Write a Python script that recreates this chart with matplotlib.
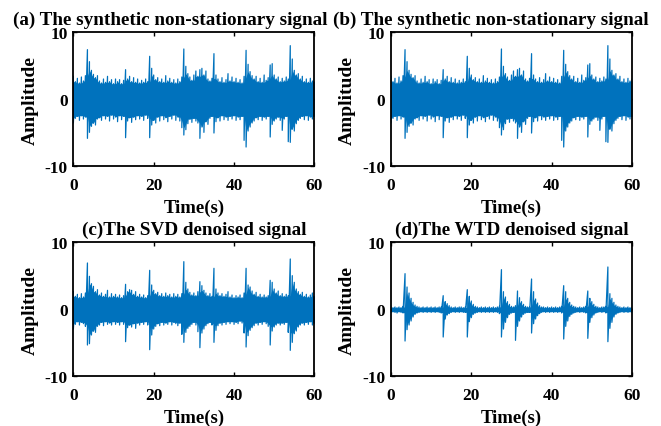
import numpy as np
import matplotlib
matplotlib.use('Agg')
import matplotlib.pyplot as plt

plt.rcParams['font.family'] = 'Liberation Serif'
plt.rcParams['font.weight'] = 'bold'
plt.rcParams['axes.unicode_minus'] = False

# sampling instants of the envelope (s)
time = np.linspace(0, 60, 121)

# synthetic non-stationary signal: upper / lower envelope per sample
raw_hi = [3.4, 2.6, 3.1, 2.4, 3.3, 2.7, 3.5, 7.4, 5.6, 4.3,
          3.7, 3.2, 3.5, 2.7, 2.4, 3.0, 2.5, 3.4, 2.6, 2.9,
          2.3, 3.0, 2.6, 2.9, 2.3, 2.8, 4.4, 3.0, 3.4, 2.6,
          3.2, 2.5, 3.0, 2.4, 2.8, 2.5, 3.0, 2.6, 6.4, 4.6,
          3.6, 2.9, 3.2, 2.6, 3.0, 2.5, 3.5, 2.7, 3.1, 2.5,
          2.9, 2.4, 3.0, 2.6, 3.3, 7.5, 4.9, 3.8, 3.3, 2.8,
          3.6, 4.2, 3.4, 4.4, 4.6, 3.6, 4.2, 3.0, 2.7, 3.1,
          6.8, 3.6, 3.0, 2.6, 3.2, 2.5, 2.9, 3.8, 2.7, 3.3,
          2.6, 3.1, 2.5, 2.9, 2.4, 3.4, 7.3, 5.2, 4.1, 3.5,
          3.0, 3.4, 2.6, 3.1, 2.5, 3.6, 2.8, 3.2, 5.1, 5.3,
          3.6, 3.0, 3.3, 2.6, 3.1, 2.7, 3.3, 3.0, 8.0, 6.0,
          4.3, 3.6, 3.8, 3.0, 3.4, 2.6, 3.0, 2.5, 3.1, 2.7,
          3.0]
raw_lo = [-3.6, -2.9, -2.6, -3.2, -2.5, -3.0, -2.7, -5.9, -5.0, -4.1,
          -3.6, -3.9, -3.0, -2.8, -3.2, -2.5, -3.0, -2.6, -3.3, -2.4,
          -3.0, -2.7, -3.4, -2.5, -3.1, -2.6, -5.8, -3.3, -2.8, -3.5,
          -2.7, -3.1, -2.5, -3.0, -2.6, -3.2, -2.4, -2.9, -5.8, -3.9,
          -3.2, -3.6, -2.7, -3.3, -2.5, -3.1, -2.8, -3.4, -2.6, -3.0,
          -2.4, -3.2, -2.7, -3.3, -4.3, -5.4, -4.6, -3.7, -3.0, -3.5,
          -2.9, -3.3, -3.6, -5.9, -4.2, -5.0, -3.4, -3.8, -2.9, -2.6,
          -5.1, -3.4, -2.8, -3.3, -2.5, -3.1, -2.7, -3.2, -2.6, -3.0,
          -2.5, -3.2, -2.7, -3.1, -2.6, -6.2, -7.2, -4.8, -4.2, -3.6,
          -3.3, -2.8, -3.1, -2.6, -3.2, -2.7, -3.0, -2.6, -5.7, -3.8,
          -3.3, -3.0, -2.7, -3.2, -4.7, -3.0, -2.6, -6.4, -6.5, -4.5,
          -4.8, -3.7, -3.2, -2.9, -2.6, -3.1, -2.5, -3.2, -2.7, -3.0,
          -2.6]

# SVD denoised signal
svd_hi = [2.6, 1.9, 2.2, 1.7, 2.3, 1.8, 2.4, 6.9, 4.9, 3.8,
          3.4, 2.6, 2.9, 2.1, 2.4, 1.9, 2.2, 2.8, 1.8, 2.3,
          1.9, 2.2, 1.8, 2.1, 1.7, 2.0, 3.7, 2.6, 2.9, 2.8,
          2.2, 2.6, 1.9, 2.2, 1.8, 2.1, 1.7, 2.0, 5.8, 3.6,
          2.8, 2.3, 2.5, 2.0, 2.3, 1.9, 2.4, 2.0, 2.2, 1.8,
          2.3, 1.9, 2.2, 1.8, 2.3, 7.1, 4.0, 3.0, 2.5, 2.1,
          2.4, 2.0, 2.6, 4.1, 3.5, 2.8, 2.4, 2.0, 2.3, 1.9,
          6.1, 3.0, 2.4, 2.0, 2.3, 1.9, 2.2, 2.6, 1.8, 2.1,
          1.7, 2.0, 1.8, 2.1, 1.7, 2.4, 6.1, 3.6, 3.3, 2.7,
          2.2, 2.5, 1.9, 2.2, 1.8, 2.1, 1.8, 2.0, 4.3, 4.0,
          3.0, 2.4, 2.7, 2.0, 2.3, 1.9, 2.2, 2.0, 7.5, 5.0,
          4.0, 3.0, 2.6, 2.2, 2.5, 1.9, 2.2, 1.8, 2.1, 2.4,
          2.0]
svd_lo = [-3.0, -2.3, -1.9, -2.4, -2.0, -2.2, -2.6, -5.4, -5.2, -3.9,
          -3.3, -3.5, -2.6, -2.4, -2.0, -2.5, -1.9, -2.3, -2.1, -2.4,
          -1.9, -2.3, -2.0, -2.4, -1.9, -2.3, -4.9, -2.8, -2.4, -2.7,
          -2.2, -2.9, -2.1, -2.4, -2.0, -2.3, -1.9, -2.4, -6.1, -3.9,
          -3.0, -2.6, -2.2, -2.5, -2.0, -2.4, -2.1, -2.3, -1.9, -2.4,
          -2.0, -2.2, -2.5, -2.1, -3.8, -5.0, -3.5, -2.9, -2.6, -2.3,
          -2.0, -2.4, -3.4, -5.8, -3.6, -3.0, -2.5, -2.2, -2.0, -2.4,
          -5.0, -3.2, -2.5, -2.1, -2.4, -2.0, -2.3, -1.9, -2.2, -1.9,
          -2.3, -2.0, -2.2, -1.8, -2.1, -3.6, -5.7, -4.0, -3.2, -2.8,
          -2.5, -2.1, -2.4, -2.0, -2.3, -1.9, -2.2, -2.6, -5.4, -3.3,
          -2.7, -2.4, -2.1, -2.4, -2.1, -2.3, -2.0, -3.5, -6.2, -5.0,
          -3.7, -3.3, -2.7, -2.4, -2.1, -2.4, -2.0, -2.3, -1.9, -2.4,
          -2.2]

# WTD denoised signal
wtd_hi = [0.3, 0.2, 0.3, 0.2, 0.3, 0.2, 0.4, 5.3, 3.3, 2.4,
          1.6, 1.0, 0.6, 0.4, 0.3, 0.2, 0.3, 0.2, 0.3, 0.2,
          0.3, 0.2, 0.3, 0.2, 0.3, 0.3, 2.0, 1.1, 0.8, 0.5,
          0.3, 0.2, 0.3, 0.2, 0.3, 0.3, 0.2, 0.3, 2.9, 1.9,
          1.2, 0.7, 0.4, 0.3, 0.2, 0.3, 0.2, 0.3, 0.2, 0.3,
          0.2, 0.3, 0.2, 0.3, 0.4, 5.9, 2.6, 1.8, 1.1, 0.7,
          0.4, 0.3, 0.5, 2.7, 1.7, 1.1, 0.7, 0.4, 0.3, 0.3,
          4.5, 2.6, 1.5, 0.9, 0.5, 0.3, 0.3, 0.2, 0.3, 0.2,
          0.3, 0.2, 0.3, 0.2, 0.3, 0.4, 3.5, 2.6, 1.6, 1.0,
          0.6, 0.4, 0.3, 0.2, 0.3, 0.2, 0.3, 0.4, 2.7, 1.6,
          1.1, 0.7, 0.4, 0.3, 0.2, 0.3, 0.3, 0.4, 6.3, 2.3,
          1.6, 1.0, 0.6, 0.4, 0.3, 0.2, 0.3, 0.2, 0.3, 0.2,
          0.3]
wtd_lo = [-0.5, -0.4, -0.5, -0.6, -0.4, -0.5, -0.6, -4.8, -3.1, -2.4,
          -1.8, -1.2, -0.8, -0.6, -0.5, -0.4, -0.5, -0.4, -0.5, -0.4,
          -0.5, -0.4, -0.5, -0.4, -0.5, -0.6, -4.2, -1.5, -0.9, -0.7,
          -0.5, -0.4, -0.5, -0.4, -0.5, -0.4, -0.5, -0.5, -4.2, -1.9,
          -1.3, -0.8, -0.6, -0.5, -0.4, -0.5, -0.4, -0.5, -0.4, -0.5,
          -0.4, -0.5, -0.4, -0.5, -0.7, -4.2, -3.0, -2.0, -1.3, -0.8,
          -0.6, -0.5, -4.7, -2.6, -1.8, -1.2, -0.8, -0.6, -0.5, -0.5,
          -3.6, -2.2, -1.5, -1.0, -0.7, -0.5, -0.4, -0.5, -0.4, -0.5,
          -0.4, -0.5, -0.4, -0.5, -0.4, -0.6, -4.5, -2.6, -1.8, -1.1,
          -0.8, -0.6, -0.5, -0.4, -0.5, -0.4, -0.5, -0.6, -4.4, -2.0,
          -1.3, -0.9, -0.6, -0.5, -0.4, -0.5, -0.4, -0.6, -4.9, -2.9,
          -2.0, -1.2, -0.8, -0.6, -0.5, -0.4, -0.5, -0.4, -0.5, -0.4,
          -0.5]

titles = ['(a) The synthetic non-stationary signal',
          '(b) The synthetic non-stationary signal',
          '(c)The SVD denoised signal',
          '(d)The WTD denoised signal']

BLUE = '#0072BD'


def core(vals, fn):
    # envelope without isolated peaks, so the body is filled solid
    v = np.asarray(vals)
    return fn.reduce([v, np.r_[v[:1], v[:-1]], np.r_[v[1:], v[-1:]]])


def draw_signal(ax, t, hi, lo, title, title_x):
    ax.fill_between(t, core(lo, np.maximum), core(hi, np.minimum),
                    color=BLUE, lw=0)
    # alternate between upper and lower envelope so the trace looks like a dense waveform
    tt = np.repeat(t, 2)
    yy = np.column_stack([hi, lo]).ravel()
    ax.plot(tt, yy, color=BLUE, lw=0.9)
    ax.set_xlim(0, 60)
    ax.set_ylim(-10, 10)
    ax.set_xticks([0, 20, 40, 60])
    ax.set_yticks([-10, 0, 10])
    ax.tick_params(direction='in', top=True, right=True, length=3, width=1,
                   labelsize=12.5)
    ax.tick_params(axis='x', pad=8)
    ax.tick_params(axis='y', pad=4)
    for s in ax.spines.values():
        s.set_linewidth(1.3)
    ax.set_title(title, fontsize=13.8, fontweight='bold', x=title_x, pad=6)
    ax.set_xlabel('Time(s)', fontsize=13.5, fontweight='bold')
    ax.set_ylabel('Amplitude', fontsize=14, fontweight='bold')
    ax.yaxis.set_label_coords(-0.145, 0.5)
    ax.xaxis.set_label_coords(0.5, -0.25)


fig = plt.figure(figsize=(6.61, 4.27), dpi=100)
w, h = 0.3646, 0.3124
ax_a = fig.add_axes([0.111, 0.6096, w, h])
ax_b = fig.add_axes([0.5915, 0.6096, w, h])
ax_c = fig.add_axes([0.111, 0.1178, w, h])
ax_d = fig.add_axes([0.5915, 0.1178, w, h])

draw_signal(ax_a, time, raw_hi, raw_lo, titles[0], 0.40)
draw_signal(ax_b, time, raw_hi, raw_lo, titles[1], 0.415)
draw_signal(ax_c, time, svd_hi, svd_lo, titles[2], 0.5)
draw_signal(ax_d, time, wtd_hi, wtd_lo, titles[3], 0.5)

fig.savefig('out.png', dpi=100)
